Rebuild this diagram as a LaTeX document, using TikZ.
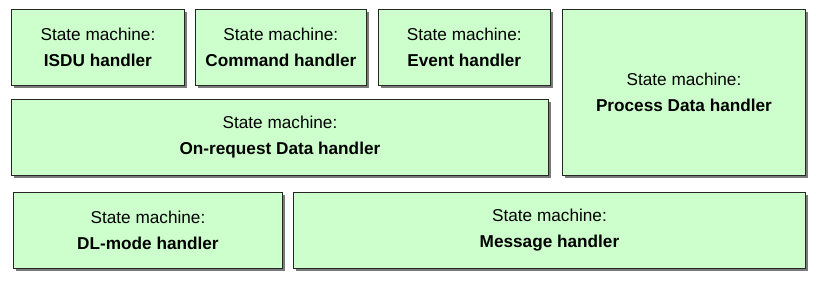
\documentclass[tikz,border=0pt]{standalone}
\usepackage{fontspec}
\setmainfont{Liberation Sans}
\usepackage{xcolor}
\usepackage{tikz}
\usetikzlibrary{positioning,shadows}
\definecolor{StateGreen}{HTML}{CCFFCC}
\definecolor{ShadowGray}{HTML}{7A7A7A}

\begin{document}
\begin{tikzpicture}[
  x=1pt, y=-1pt,
  node distance=10pt,
  sm/.style={draw=black!85, line width=0.9pt, fill=StateGreen, align=center, inner sep=0pt,
    minimum height=76pt, font=\fontsize{17.2}{26}\selectfont,
    drop shadow={shadow xshift=2.5pt, shadow yshift=-2.5pt, fill=ShadowGray, opacity=1}},
  corner/.style={sm, anchor=north west}
]
\useasboundingbox (0,0) rectangle (816,282);
% top row
\node[corner, minimum width=173pt] (isdu) at (11,9) {State machine:\\\textbf{ISDU handler}};
\node[sm, minimum width=171pt, right=10pt of isdu] (command) {State machine:\\\textbf{Command handler}};
\node[sm, minimum width=172pt, right=11pt of command] (event) {State machine:\\\textbf{Event handler}};
\node[corner, minimum width=243pt, minimum height=166pt] (process) at (562,9) {State machine:\\\textbf{Process Data handler}};
% middle row
\node[corner, minimum width=537pt] (onrequest) at (11,99) {State machine:\\\textbf{On-request Data handler}};
% bottom row
\node[corner, minimum width=269pt] (dlmode) at (13,192) {State machine:\\\textbf{DL-mode handler}};
\node[corner, minimum width=512pt] (message) at (293,192) {State machine:\\\textbf{Message handler}};
\end{tikzpicture}
\end{document}
